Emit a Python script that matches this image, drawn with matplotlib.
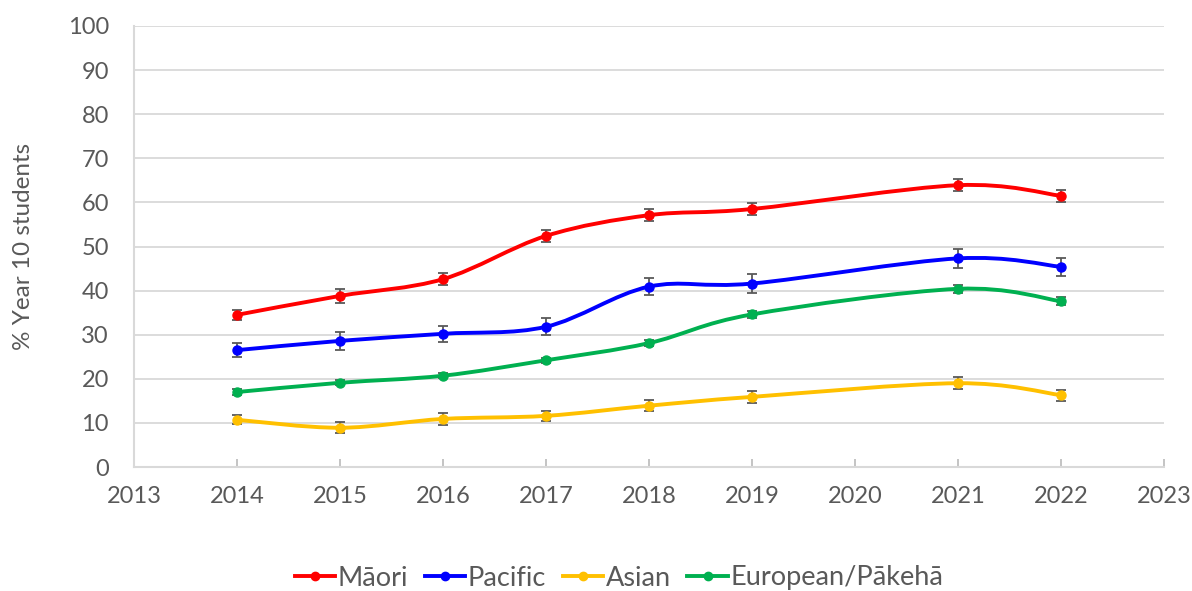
import matplotlib
matplotlib.use('Agg')
import matplotlib.pyplot as plt
from matplotlib.path import Path
from matplotlib.patches import PathPatch
from matplotlib.lines import Line2D
import numpy as np

plt.rcParams['font.family'] = ['Lato', 'DejaVu Sans']

# data
years = [2014, 2015, 2016, 2017, 2018, 2019, 2021, 2022]

maori = [34.5, 38.8, 42.6, 52.4, 57.1, 58.5, 63.9, 61.5]
maori_err = [1.2, 1.5, 1.4, 1.4, 1.4, 1.4, 1.35, 1.3]

pacific = [26.5, 28.6, 30.2, 31.8, 40.9, 41.6, 47.3, 45.4]
pacific_err = [1.6, 2.0, 1.8, 1.9, 1.9, 2.1, 2.2, 2.1]

asian = [10.7, 8.9, 10.9, 11.6, 13.9, 15.9, 19.0, 16.3]
asian_err = [1.05, 1.2, 1.3, 1.2, 1.2, 1.3, 1.4, 1.25]

european = [17.0, 19.1, 20.7, 24.2, 28.1, 34.6, 40.4, 37.6]
european_err = [0.6, 0.6, 0.6, 0.6, 0.6, 0.7, 0.9, 0.9]

labels = ['Māori', 'Pacific', 'Asian', 'European/Pākehā']
colors = ['#FF0000', '#0000FF', '#FFC000', '#00B050']
series = [maori, pacific, asian, european]
errors = [maori_err, pacific_err, asian_err, european_err]

text_col = '#595959'
grid_col = '#D9D9D9'


def smooth_path(x, y):
    # Excel-style smoothed line: cubic Bezier with Catmull-Rom control points
    pts = np.column_stack([x, y]).astype(float)
    n = len(pts)
    verts = [pts[0]]
    codes = [Path.MOVETO]
    for i in range(n - 1):
        p0 = pts[i - 1] if i > 0 else pts[i]
        p1 = pts[i]
        p2 = pts[i + 1]
        p3 = pts[i + 2] if i + 2 < n else pts[i + 1]
        c1 = p1 + (p2 - p0) / 6.0
        c2 = p2 - (p3 - p1) / 6.0
        verts += [c1, c2, p2]
        codes += [Path.CURVE4] * 3
    return Path(verts, codes)


fig = plt.figure(figsize=(11.92, 5.91), dpi=100)
ax = fig.add_axes([134 / 1192, 1 - 467 / 591, (1164 - 134) / 1192, (467 - 26) / 591])

for vals, errs, col in zip(series, errors, colors):
    patch = PathPatch(smooth_path(years, vals), facecolor='none', edgecolor=col,
                      lw=2.8, capstyle='round', joinstyle='round', zorder=3)
    ax.add_patch(patch)
    ax.errorbar(years, vals, yerr=errs, fmt='none', ecolor=text_col,
                elinewidth=1.3, capsize=3.8, capthick=1.3, zorder=4)
    ax.plot(years, vals, 'o', color=col, ms=6.5, zorder=5)

ax.set_xlim(2013, 2023)
ax.set_ylim(0, 100)
ax.set_xticks(range(2013, 2024))
ax.set_yticks(range(0, 101, 10))
ax.yaxis.grid(True, color=grid_col, lw=1.3)
ax.set_axisbelow(True)

for s in ['top', 'right']:
    ax.spines[s].set_visible(False)
for s in ['left', 'bottom']:
    ax.spines[s].set_color(grid_col)
    ax.spines[s].set_linewidth(1.5)

ax.tick_params(axis='x', direction='in', length=6, width=1.3, color='#BFBFBF',
               labelsize=17, labelcolor=text_col, pad=14)
ax.tick_params(axis='y', length=0, labelsize=17, labelcolor=text_col, pad=18)
ax.set_ylabel('% Year 10 students', fontsize=17.5, color=text_col, labelpad=24)

handles = [Line2D([0], [0], color=c, lw=2.8, marker='o', ms=6) for c in colors]
fig.legend(handles, labels, loc='center', bbox_to_anchor=(619 / 1192, 1 - 578 / 591),
           ncol=4, frameon=False, fontsize=19.5, handlelength=1.5, handletextpad=0.1,
           columnspacing=0.6, labelcolor=text_col)

fig.savefig('out.png', dpi=100)
